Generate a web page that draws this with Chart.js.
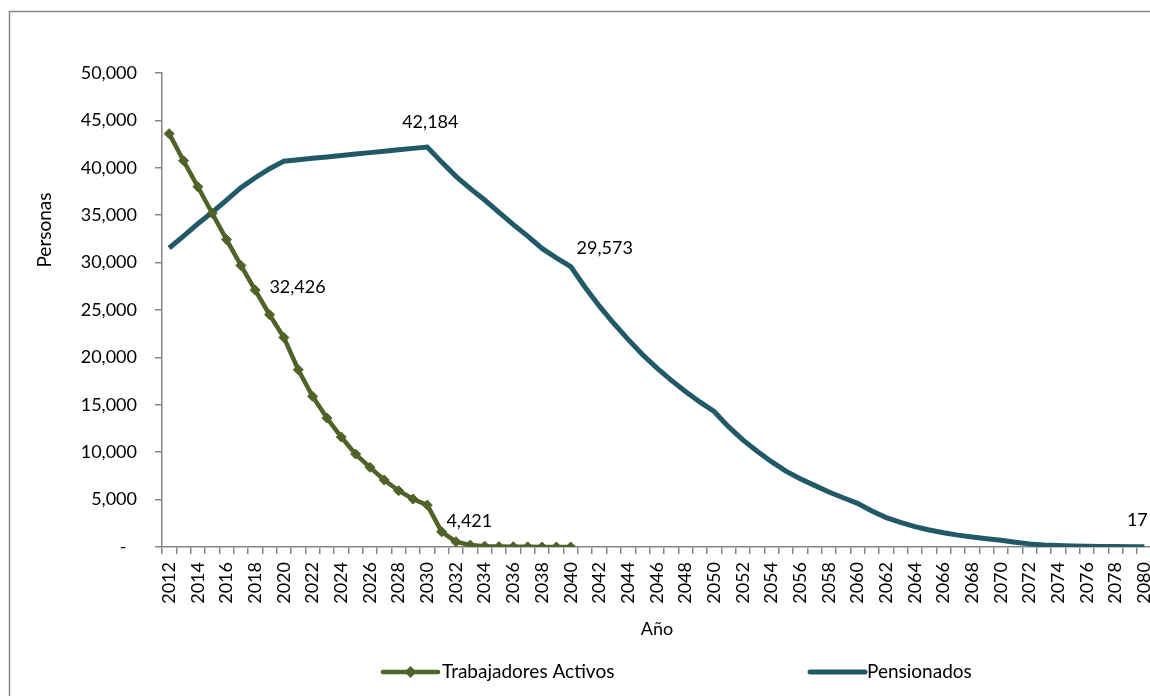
<!DOCTYPE html>
<html>
<head>
<meta charset="utf-8">
<script src="https://cdn.jsdelivr.net/npm/chart.js@4.4.1/dist/chart.umd.min.js"></script>
<style>
    html, body { margin: 0; padding: 0; background: #fff; overflow: hidden; }
    #wrap { position: relative; width: 1174px; height: 696px; }
</style>
</head>
<body>
<div id="wrap"><canvas id="chart"></canvas></div>
<script>
// Datos
const years = [
    "2012", "2013", "2014", "2015", "2016", "2017", "2018", "2019", "2020", "2021",
    "2022", "2023", "2024", "2025", "2026", "2027", "2028", "2029", "2030", "2031",
    "2032", "2033", "2034", "2035", "2036", "2037", "2038", "2039", "2040", "2041",
    "2042", "2043", "2044", "2045", "2046", "2047", "2048", "2049", "2050", "2051",
    "2052", "2053", "2054", "2055", "2056", "2057", "2058", "2059", "2060", "2061",
    "2062", "2063", "2064", "2065", "2066", "2067", "2068", "2069", "2070", "2071",
    "2072", "2073", "2074", "2075", "2076", "2077", "2078", "2079", "2080"
];

// 2012 - 2040
const trabajadores = [
    43600, 40750, 38000, 35200, 32426, 29700, 27100, 24500, 22100, 18700,
    15900, 13600, 11600, 9800, 8400, 7070, 5940, 5060, 4421, 1600,
    560, 200, 90, 45, 25, 15, 8, 4, 2
];

// 2012 - 2080
const pensionados = [
    31540, 32800, 34100, 35300, 36600, 37900, 38950, 39900, 40700, 40850,
    41000, 41150, 41300, 41450, 41600, 41750, 41900, 42050, 42184, 40600,
    39100, 37800, 36600, 35300, 34000, 32800, 31500, 30500, 29573, 27400,
    25400, 23600, 21900, 20300, 18900, 17600, 16400, 15300, 14300, 12700,
    11300, 10100, 9000, 8000, 7200, 6500, 5800, 5200, 4600, 3800,
    3100, 2600, 2150, 1800, 1500, 1250, 1050, 880, 720, 500,
    330, 220, 150, 110, 80, 60, 40, 28, 17
];

const yTicks = [0, 5000, 10000, 15000, 20000, 25000, 30000, 35000, 40000, 45000, 50000];

// puntos con etiqueta: serie, indice
const labelPoints = [
    { serie: 0, idx: 4 },
    { serie: 0, idx: 18 },
    { serie: 1, idx: 18 },
    { serie: 1, idx: 28 },
    { serie: 1, idx: 68 }
];
// desplazamiento de cada etiqueta respecto al punto
const labelOffsets = [[71, 48], [42, 16], [3, -25], [34, -18], [-7, -27]];

const FONT = "Lato";
const GRAY = "#868686";
const fmt = v => v.toLocaleString("en-US");

// Marco, titulos, etiquetas y leyenda
const extras = {
    id: "extras",
    beforeDraw(c) {
        const ctx = c.ctx;
        ctx.save();
        ctx.strokeStyle = GRAY;
        ctx.lineWidth = 1.5;
        ctx.beginPath();
        ctx.moveTo(9.5, 700);
        ctx.lineTo(9.5, 11.5);
        ctx.lineTo(1180, 11.5);
        ctx.stroke();
        ctx.restore();
    },
    afterDraw(c) {
        const ctx = c.ctx;
        ctx.save();
        ctx.fillStyle = "#000";
        ctx.font = "18px " + FONT;
        ctx.textAlign = "center";
        ctx.textBaseline = "middle";

        // etiquetas de datos
        labelPoints.forEach((p, k) => {
            const pt = c.getDatasetMeta(p.serie).data[p.idx];
            const v = c.data.datasets[p.serie].data[p.idx];
            ctx.fillText(fmt(v), pt.x + labelOffsets[k][0], pt.y + labelOffsets[k][1]);
        });

        // titulos de ejes
        ctx.fillText("Año", 657, 629);
        ctx.save();
        ctx.translate(45, 230);
        ctx.rotate(-Math.PI / 2);
        ctx.font = "19px " + FONT;
        ctx.fillText("Personas", 0, 0);
        ctx.restore();

        // leyenda
        const items = [
            { ds: 0, x0: 383, x1: 438, tx: 442 },
            { ds: 1, x0: 810, x1: 865, tx: 867 }
        ];
        const ly = 672;
        ctx.font = "19px " + FONT;
        ctx.textAlign = "left";
        items.forEach(it => {
            const d = c.data.datasets[it.ds];
            ctx.strokeStyle = d.borderColor;
            ctx.lineWidth = d.borderWidth;
            ctx.lineCap = "round";
            ctx.beginPath();
            ctx.moveTo(it.x0, ly);
            ctx.lineTo(it.x1, ly);
            ctx.stroke();
            if (d.pointRadius > 0) {
                const m = (it.x0 + it.x1) / 2, r = d.pointRadius + 1;
                ctx.fillStyle = d.backgroundColor;
                ctx.beginPath();
                ctx.moveTo(m, ly - r);
                ctx.lineTo(m + r, ly);
                ctx.lineTo(m, ly + r);
                ctx.lineTo(m - r, ly);
                ctx.closePath();
                ctx.fill();
            }
            ctx.fillStyle = "#000";
            ctx.fillText(d.label, it.tx, ly);
        });
        ctx.restore();
    }
};

new Chart(document.querySelector("#chart"), {
    type: "line",
    data: {
        labels: years,
        datasets: [
            {
                label: "Trabajadores Activos",
                data: trabajadores,
                borderColor: "#4F6228",
                backgroundColor: "#4F6228",
                borderWidth: 4.5,
                pointStyle: "rectRot",
                pointRadius: 5,
                pointBorderWidth: 1,
                tension: 0
            },
            {
                label: "Pensionados",
                data: pensionados,
                borderColor: "#215968",
                backgroundColor: "#215968",
                borderWidth: 5,
                pointRadius: 0,
                tension: 0
            }
        ]
    },
    options: {
        responsive: true,
        maintainAspectRatio: false,
        animation: false,
        events: [],
        layout: { padding: { top: 73, left: 0, right: 0, bottom: 0 } },
        plugins: {
            legend: { display: false },
            tooltip: { enabled: false }
        },
        scales: {
            x: {
                type: "category",
                offset: true,
                grid: { offset: true, drawOnChartArea: false, tickLength: 7, color: GRAY, lineWidth: 1.5 },
                border: { color: GRAY, width: 1.5 },
                ticks: {
                    autoSkip: false,
                    maxRotation: 90,
                    minRotation: 90,
                    padding: 8,
                    color: "#000",
                    font: { family: FONT, size: 18 },
                    callback: (v, i) => (i % 2 === 0 ? years[i] : "")
                },
                afterFit: s => { s.height = 149; }
            },
            y: {
                min: 0,
                max: 50000,
                afterBuildTicks: s => { s.ticks = yTicks.map(v => ({ value: v })); },
                grid: { drawOnChartArea: false, tickLength: 7, color: GRAY, lineWidth: 1.5 },
                border: { color: GRAY, width: 1.5 },
                ticks: {
                    padding: 18,
                    color: "#000",
                    font: { family: FONT, size: 18 },
                    callback: v => (v === 0 ? "-\u2007" : fmt(v))
                },
                afterFit: s => { s.width = 162; }
            }
        }
    },
    plugins: [extras]
});
</script>
</body>
</html>
